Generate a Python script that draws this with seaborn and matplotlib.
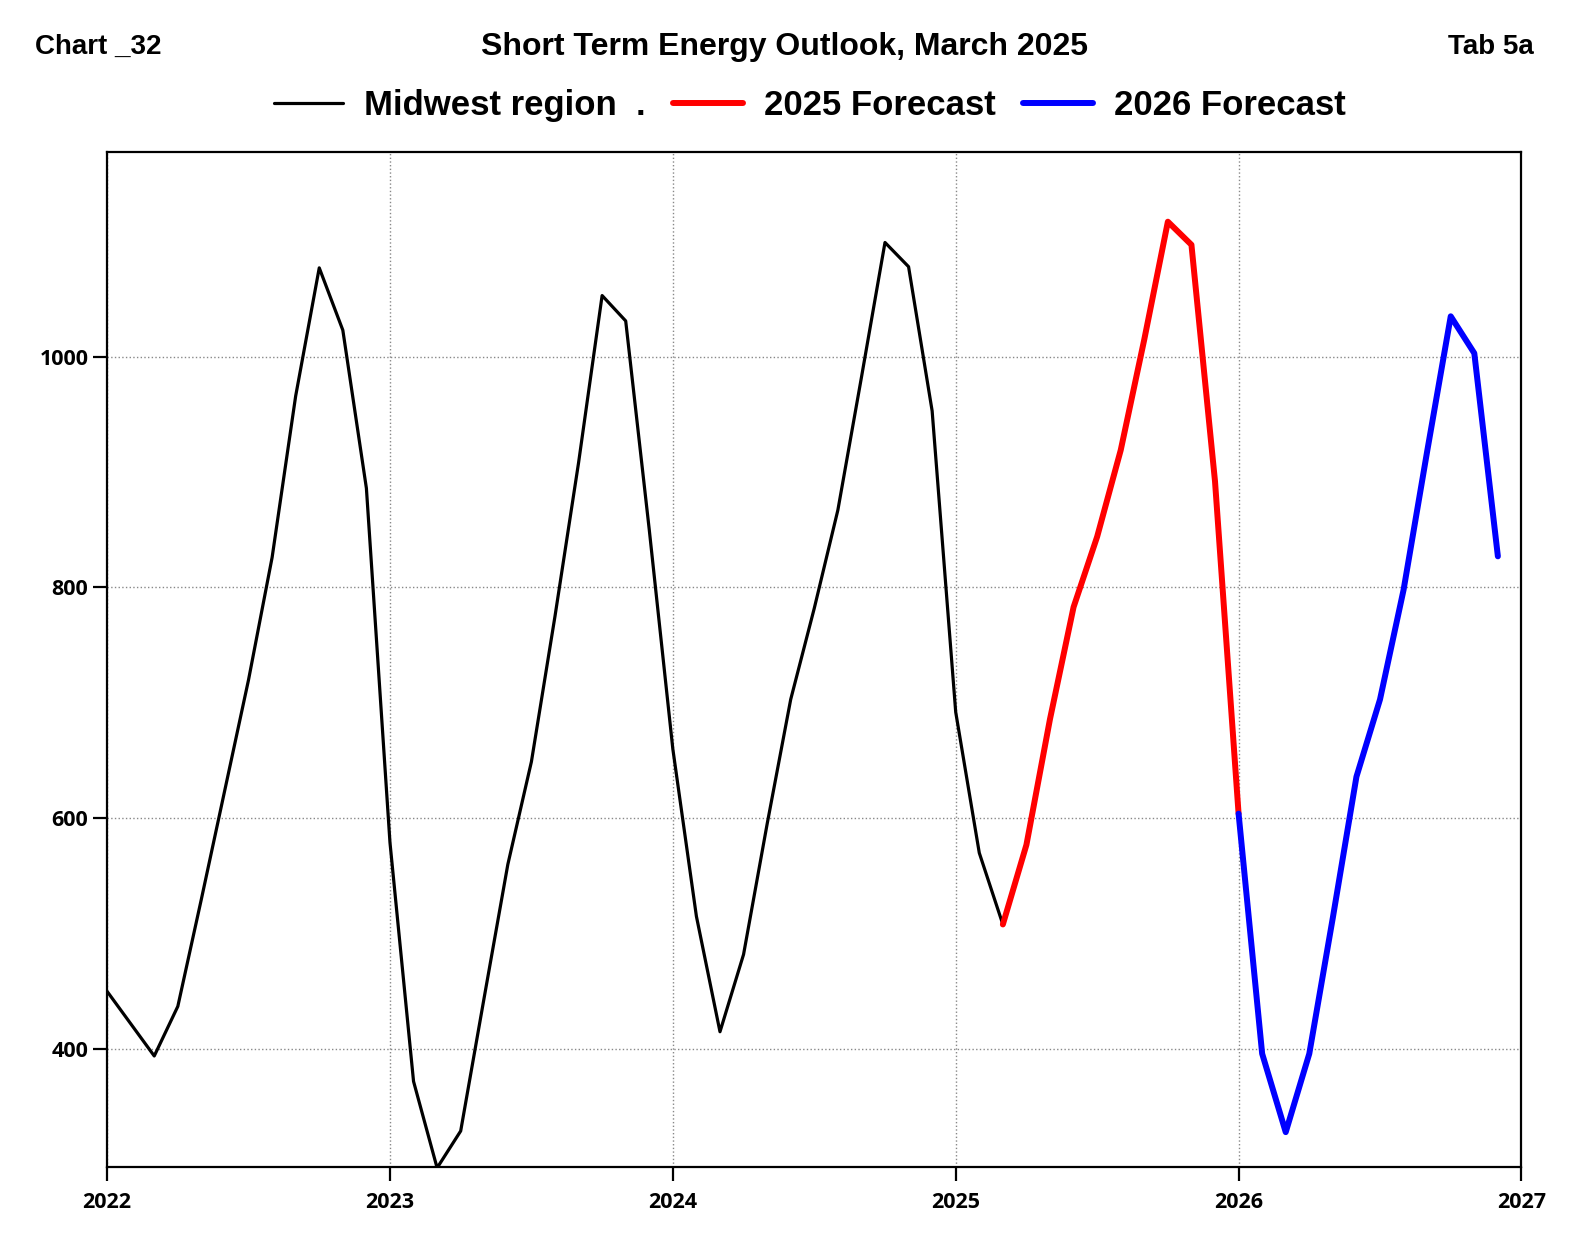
import numpy as np
import pandas as pd
import matplotlib
matplotlib.use("Agg")
import matplotlib.pyplot as plt
import seaborn as sns

# Monthly values (Jan 2022 .. Dec 2026)
hist_values = [450, 422, 394, 437, 530, 625, 720, 826, 966, 1077, 1023, 886,
               579, 372, 297, 329, 445, 560, 649, 775, 908, 1053, 1031, 850,
               660, 515, 415, 482, 595, 703, 782, 867, 982, 1099, 1078, 953,
               692, 570, 508]
f2025_values = [508, 577, 686, 783, 844, 919, 1015, 1117, 1097, 892, 604]
f2026_values = [604, 396, 328, 396, 514, 636, 703, 798, 918, 1035, 1003, 827]

hist_x = 2022 + np.arange(len(hist_values)) / 12
f2025_x = 2022 + (38 + np.arange(len(f2025_values))) / 12
f2026_x = 2026 + np.arange(len(f2026_values)) / 12

hist = pd.DataFrame({"year": hist_x, "value": hist_values})
f2025 = pd.DataFrame({"year": f2025_x, "value": f2025_values})
f2026 = pd.DataFrame({"year": f2026_x, "value": f2026_values})

year_ticks = [2022, 2023, 2024, 2025, 2026, 2027]
value_ticks = [400, 600, 800, 1000]

sns.set_style("white")
sans = ["Liberation Sans", "DejaVu Sans"]
plt.rcParams["font.family"] = sans
plt.rcParams["text.color"] = "black"

fig = plt.figure(figsize=(15.75, 12.6), dpi=100)
ax = fig.add_axes([0.068, 0.074, 0.898, 0.805])

sns.lineplot(data=hist, x="year", y="value", ax=ax, color="black", linewidth=2.3,
             label="Midwest region  .")
sns.lineplot(data=f2025, x="year", y="value", ax=ax, color="#ff0000", linewidth=4.3,
             label="2025 Forecast")
sns.lineplot(data=f2026, x="year", y="value", ax=ax, color="#0000ff", linewidth=4.3,
             label="2026 Forecast")

ax.set_xlim(2022, 2027)
ax.set_ylim(298, 1177)
ax.set_xticks(year_ticks)
ax.set_xticklabels([str(y) for y in year_ticks])
ax.set_yticks(value_ticks)
ax.set_yticklabels([str(v) for v in value_ticks])
ax.set_xlabel("")
ax.set_ylabel("")

ax.grid(True, color="#888888", linestyle=":", linewidth=1.0)
for s in ax.spines.values():
    s.set_color("black")
    s.set_linewidth(1.6)
ax.tick_params(axis="both", direction="out", length=10, width=1.6, colors="black",
               left=True, bottom=True)
ax.tick_params(axis="x", pad=8)
for lab in ax.get_xticklabels() + ax.get_yticklabels():
    lab.set_fontfamily(["Open Sans", "DejaVu Sans"])
    lab.set_fontweight("bold")
    lab.set_fontsize(15.5)
    lab.set_color("black")

handles, labels = ax.get_legend_handles_labels()
ax.get_legend().remove()
fig.legend(handles, labels, loc="center", bbox_to_anchor=(0.514, 0.916), ncol=3,
           frameon=False, handlelength=2.0, columnspacing=0.8, handletextpad=0.6,
           prop={"family": sans, "weight": "bold", "size": 25})

fig.text(0.022, 0.963, "Chart _32", ha="left", va="center", fontsize=20, fontweight="bold")
fig.text(0.498, 0.963, "Short Term Energy Outlook, March 2025", ha="center", va="center",
         fontsize=23, fontweight="bold")
fig.text(0.974, 0.963, "Tab 5a", ha="right", va="center", fontsize=20, fontweight="bold")

fig.savefig("out.png", dpi=100, facecolor="white")
